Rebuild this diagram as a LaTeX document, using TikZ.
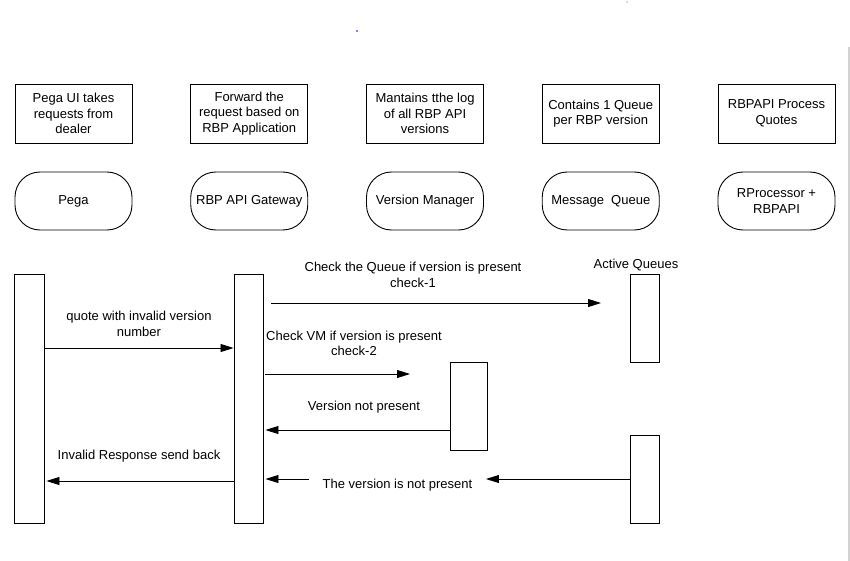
\documentclass[tikz,border=0pt]{standalone}
\usepackage{fontspec}
\setmainfont{Liberation Sans}
\usetikzlibrary{arrows.meta}
\tikzset{
    note/.style = {rectangle, minimum width=117pt, minimum height=59pt, text centered, align=center, draw=black, line width=0.9pt, inner sep=0pt, font=\fontsize{13}{15.5}\selectfont},
    actor/.style = {rectangle, rounded corners=25pt, minimum width=117pt, minimum height=58pt, text centered, align=center, draw=black, line width=0.9pt, inner sep=0pt, font=\fontsize{13}{15.5}\selectfont},
    bar/.style = {rectangle, draw=black, line width=0.9pt, inner sep=0pt},
    msg/.style = {align=center, inner sep=0pt, font=\fontsize{13}{15.5}\selectfont},
    arrow/.style = {line width=0.8pt, -{Triangle[length=13pt,width=8pt]}}
}
\begin{document}
\begin{tikzpicture}[x=1pt, y=-1pt, node distance=175.75pt]
\useasboundingbox (0,0) rectangle (850,561);
\node (pegadesc) [note] at (73.5,113.5) {Pega UI takes\\requests from\\dealer};
\node (gwdesc) [note, right of=pegadesc] {Forward the\\request based on\\RBP Application};
\node (vmdesc) [note, right of=gwdesc] {Mantains tthe log\\of all RBP API\\versions};
\node (mqdesc) [note, right of=vmdesc] {Contains 1 Queue\\per RBP version};
\node (rpdesc) [note, right of=mqdesc] {RBPAPI Process\\Quotes};

\node (pega) [actor, below of=pegadesc, node distance=87.5pt] {Pega};
\node (gw) [actor, below of=gwdesc, node distance=87.5pt] {RBP API Gateway};
\node (vm) [actor, below of=vmdesc, node distance=87.5pt] {Version Manager};
\node (mq) [actor, below of=mqdesc, node distance=87.5pt] {Message\ \ Queue};
\node (rp) [actor, below of=rpdesc, node distance=87.5pt] {RProcessor +\\RBPAPI};

\node (pegabar) [bar, minimum width=30pt, minimum height=249pt] at (29,398.5) {};
\node (gwbar) [bar, minimum width=29pt, minimum height=249pt] at (248.5,398.5) {};
\node (vmbar) [bar, minimum width=37pt, minimum height=88pt] at (468.5,406) {};
\node (mqbar1) [bar, minimum width=29pt, minimum height=88pt] at (644.5,318) {};
\node (mqbar2) [bar, minimum width=29pt, minimum height=88pt] at (644.5,479) {};

\node (activeq) [msg] at (636,265) {Active Queues};
\node (lblquote) [msg] at (139,324) {quote with invalid version\\number};
\node (lblcheck1) [msg] at (413,275) {Check the Queue if version is present\\check-1};
\node (lblcheck2) [msg] at (354,343.5) {Check VM if version is present\\check-2};
\node (lblnotvm) [msg] at (364,407) {Version not present};
\node (lblinvalid) [msg] at (139,456) {Invalid Response send back};
\node (lblnotmq) [msg, inner xsep=13.5pt] at (397.5,485) {The version is not present};

\coordinate (q1from) at (271,303);
\coordinate (q1to) at (601,303);
\coordinate (vmto) at (410,374);

\draw [arrow] (pegabar.east |- 0,348) -- (gwbar.west |- 0,348);
\draw [arrow] (q1from) -- (q1to);
\draw [arrow] ([xshift=2pt]gwbar.east |- 0,374) -- (vmto);
\draw [arrow] (vmbar.west |- 0,430) -- ([xshift=2pt]gwbar.east |- 0,430);
\draw [arrow] (gwbar.west |- 0,481) -- ([xshift=2pt]pegabar.east |- 0,481);
\draw [arrow] (mqbar2.west) -- (lblnotmq.east |- mqbar2.west);
\draw [arrow] (lblnotmq.west |- mqbar2.west) -- ([xshift=2pt]gwbar.east |- mqbar2.west);

% edge of the page and stray dots
\draw [gray!35, line width=1.5pt] (849,47) -- (849,561);
\fill [blue] (357,31) circle (0.8pt);
\fill [blue!70] (627,2) circle (0.6pt);
\end{tikzpicture}
\end{document}
